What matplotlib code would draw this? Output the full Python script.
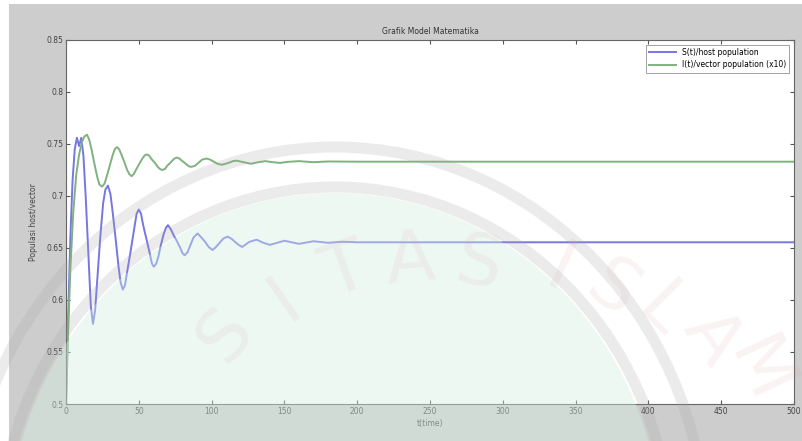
import matplotlib.pyplot as plt
from matplotlib.patches import Ellipse, Rectangle
from matplotlib.transforms import IdentityTransform

# host population S(t), read at peaks, troughs and the slopes between them
t_host = [0, 1.5, 3, 4.5, 6, 7.5, 9, 10.5, 12, 13.5, 15.5, 17, 18.5, 20, 21.5,
          23.5, 25.5, 27, 28.8, 30.5, 32, 34, 36, 37.5, 39, 40.5, 42, 44.5, 47,
          48.5, 50, 51.5, 53, 55, 57.5, 59, 60.3, 62, 63.5, 65, 67, 68.5, 70,
          72, 74, 76, 78.5, 80, 81.5, 83.5, 85.5, 87.5, 90.4, 93, 95.5, 98,
          100.7, 103, 105.5, 108, 111, 113.5, 116, 118.5, 121, 126, 131, 135.5,
          140, 145, 150, 155, 160, 170, 180, 190, 200, 500]
s_host = [0.500, 0.585, 0.660, 0.715, 0.745, 0.756, 0.748, 0.756, 0.738, 0.700,
          0.640, 0.595, 0.577, 0.590, 0.620, 0.660, 0.693, 0.706, 0.710, 0.702,
          0.685, 0.660, 0.633, 0.617, 0.610, 0.614, 0.627, 0.648, 0.670, 0.683,
          0.687, 0.683, 0.672, 0.660, 0.645, 0.635, 0.632, 0.635, 0.642, 0.652,
          0.663, 0.669, 0.672, 0.668, 0.662, 0.657, 0.650, 0.645, 0.643, 0.646,
          0.653, 0.660, 0.664, 0.660, 0.656, 0.651, 0.648, 0.651, 0.655, 0.659,
          0.661, 0.659, 0.656, 0.653, 0.651, 0.656, 0.658, 0.655, 0.653, 0.655,
          0.657, 0.6555, 0.654, 0.6565, 0.655, 0.656, 0.6555, 0.6555]

# vector population I(t)
t_vec = [0, 1.5, 3, 5, 7, 9, 11, 12.5, 14.4, 16, 17.5, 19.5, 21.5, 23, 24.7,
         26.5, 28, 30, 32, 33.5, 35, 36.5, 38, 40, 42, 43.5, 45, 46.5, 48, 50,
         52, 54, 55.5, 57, 59, 61, 63, 64.5, 66, 68, 69.5, 71, 73, 74.5, 76, 78,
         79.5, 81, 83, 84.5, 86, 88.5, 91, 93.5, 96.5, 99, 101.5, 104, 107,
         109.5, 112, 114.5, 117, 122, 127, 132, 137, 142, 147, 152, 160, 170,
         180, 200, 500]
i_vec = [0.500, 0.570, 0.630, 0.685, 0.720, 0.740, 0.752, 0.757, 0.759, 0.754,
         0.745, 0.731, 0.718, 0.711, 0.709, 0.712, 0.719, 0.729, 0.739, 0.745,
         0.747, 0.745, 0.740, 0.733, 0.725, 0.721, 0.719, 0.721, 0.725, 0.730,
         0.735, 0.739, 0.740, 0.739, 0.735, 0.732, 0.728, 0.726, 0.725, 0.726,
         0.729, 0.731, 0.734, 0.736, 0.737, 0.736, 0.734, 0.7325, 0.730, 0.7285,
         0.728, 0.729, 0.732, 0.735, 0.736, 0.735, 0.733, 0.731, 0.730, 0.731,
         0.732, 0.7335, 0.734, 0.7325, 0.731, 0.7325, 0.7335, 0.7325, 0.7318,
         0.7328, 0.7335, 0.7325, 0.7332, 0.733, 0.733]

x_ticks = [0, 50, 100, 150, 200, 250, 300, 350, 400, 450, 500]
y_ticks = [0.5, 0.55, 0.6, 0.65, 0.7, 0.75, 0.8, 0.85]
y_tick_labels = ['0.5', '0.55', '0.6', '0.65', '0.7', '0.75', '0.8', '0.85']

fs = 5.5

fig = plt.figure(figsize=(8.03, 4.41), dpi=100)
fig.patch.set_facecolor('white')
# grey figure window behind the axes
fig.patches.append(Rectangle((0.011, 0.0), 0.989, 0.99, transform=fig.transFigure,
                             facecolor='#cdcdcd', edgecolor='none', zorder=-10))

ax = fig.add_axes([0.0822, 0.0839, 0.9066, 0.8254])
ax.set_facecolor('white')

ax.plot(t_host, s_host, color='#7676e4', lw=1.4, label='S(t)/host population')
ax.plot(t_vec, i_vec, color='#7fb27f', lw=1.4, label='I(t)/vector population (x10)')

ax.set_xlim(0, 500)
ax.set_ylim(0.5, 0.85)
ax.set_xticks(x_ticks)
ax.set_yticks(y_ticks)
ax.set_yticklabels(y_tick_labels)
ax.tick_params(direction='in', top=True, right=True, labelsize=fs, length=3,
               color='#555555', labelcolor='#444444', pad=2)
for sp in ax.spines.values():
    sp.set_color('#666666')
    sp.set_linewidth(0.8)

ax.set_title('Grafik Model Matematika', fontsize=fs, color='#333333', pad=4)
ax.set_xlabel('t(time)', fontsize=fs, color='#444444', labelpad=2)
ax.set_ylabel('Populasi host/vector', fontsize=fs, color='#444444', labelpad=6)

leg = ax.legend(loc='upper right', fontsize=fs, frameon=True, fancybox=False,
                handlelength=3.5, borderaxespad=0.6, edgecolor='#777777')
leg.get_frame().set_linewidth(0.6)

# faint university logo over the figure, in pixel coordinates from bottom-left
px = IdentityTransform()
centre = (335, -104)
fig.patches.append(Ellipse(centre, 2 * 328, 2 * 352, transform=px,
                           facecolor='#d6efe2', edgecolor='none', alpha=0.42,
                           zorder=5))
for a, b in ((372, 398), (336, 358)):
    fig.patches.append(Ellipse(centre, 2 * a, 2 * b, transform=px, fill=False,
                               edgecolor='#a8a8a8', lw=8, alpha=0.22, zorder=6))

letters = [('S', 225, 335, 50), ('I', 285, 300, 35), ('T', 345, 272, 20),
           ('A', 410, 262, 5), ('S', 478, 266, -10), ('I', 560, 272, -25),
           ('S', 612, 290, -35), ('L', 662, 312, -45), ('A', 712, 338, -55),
           ('M', 758, 372, -65)]
for ch, lx, ly, rot in letters:
    fig.text(lx / 803, 1 - ly / 441, ch, fontsize=52, color='#d8a0a8', alpha=0.12,
             rotation=rot, ha='center', va='center', zorder=7)

plt.savefig('out.png', dpi=100)
